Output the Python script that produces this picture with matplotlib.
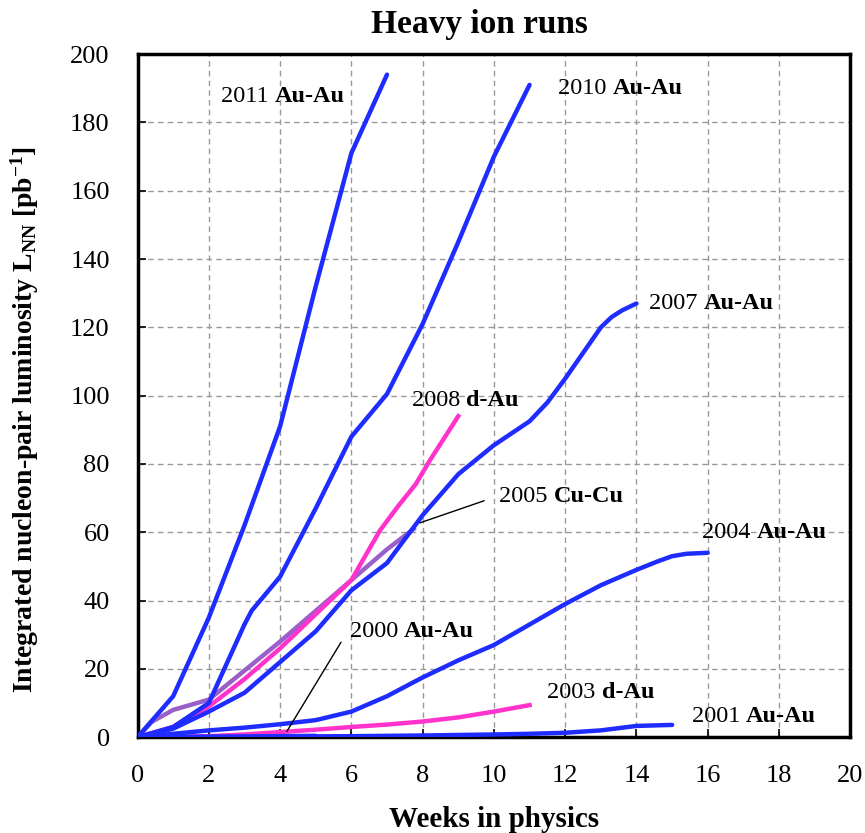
import matplotlib
matplotlib.use("Agg")
import matplotlib.pyplot as plt

plt.rcParams['font.family'] = ['Liberation Serif', 'DejaVu Serif']
plt.rcParams['mathtext.fontset'] = 'custom'
plt.rcParams['mathtext.rm'] = 'Liberation Serif:bold'
plt.rcParams['mathtext.bf'] = 'Liberation Serif:bold'
plt.rcParams['mathtext.it'] = 'Liberation Serif:bold'

# ---- data (weeks, integrated luminosity pb^-1) ----
w2011 = [0, 1, 2, 3, 4, 5, 6, 7]
l2011 = [0, 12, 35, 62, 91, 132, 171, 194]

w2010 = [0, 1, 2, 3, 3.2, 4, 5, 6, 7, 8, 9, 10, 11]
l2010 = [0, 3, 10, 33, 37, 47, 67, 88, 100.5, 121, 145, 170, 191]

w2007 = [0, 1, 2, 3, 4, 5, 6, 7, 8, 9, 10, 11, 11.5, 12, 12.6, 13, 13.3, 13.6, 14]
l2007 = [0, 2.5, 7.5, 13, 22, 31, 43, 51, 65, 77, 85.5, 92.5, 98, 105, 114, 120, 123, 125, 127]

w2008 = [0, 1, 2, 3, 4, 5, 6, 6.8, 7.3, 7.8, 8.2, 9]
l2008 = [0, 3, 9, 17, 26, 36, 46, 60.5, 67.5, 74, 81, 94]

w2005 = [0, 0.4, 1, 2, 3, 4, 5, 6, 7, 7.75]
l2005 = [0, 4.5, 8, 11, 19.5, 28, 37, 46, 55, 61]

w2004 = [0, 1, 2, 3, 4, 5, 6, 7, 8, 9, 10, 11, 12, 13, 14, 14.6, 15, 15.4, 16]
l2004 = [0, 1, 2, 2.8, 3.8, 5, 7.5, 12, 17.5, 22.5, 27, 33, 39, 44.5, 49, 51.5, 53, 53.7, 54]

w2003 = [0, 2, 3, 4, 5, 6, 7, 8, 9, 10, 11]
l2003 = [0, 0.3, 0.8, 1.5, 2.2, 3, 3.7, 4.6, 5.8, 7.5, 9.4]

w2001 = [0, 2, 4, 6, 8, 10, 11, 12, 13, 14, 15]
l2001 = [0, 0.1, 0.2, 0.3, 0.5, 0.8, 1.0, 1.3, 2.0, 3.3, 3.6]

w2000 = [0, 1, 2, 3, 4, 5]
l2000 = [0, 0.05, 0.1, 0.2, 0.3, 0.4]

xticks = list(range(0, 21, 2))
yticks = list(range(0, 201, 20))

blue = '#1f2cff'
magenta = '#ff33cc'
purple = '#9a5fc8'

fig = plt.figure(figsize=(8.65, 8.33), dpi=100)
ax = fig.add_axes([0.159, 0.115, 0.824, 0.82])

lw = 3.2
ax.plot(w2005, l2005, color=purple, lw=lw, zorder=3)
ax.plot(w2008, l2008, color=magenta, lw=lw, zorder=3)
ax.plot(w2003, l2003, color=magenta, lw=lw, zorder=3)
for w, l in [(w2011, l2011), (w2010, l2010), (w2007, l2007), (w2004, l2004),
             (w2000, l2000), (w2001, l2001)]:
    ax.plot(w, l, color=blue, lw=lw, zorder=4, solid_capstyle='round')

ax.set_xlim(0, 20)
ax.set_ylim(0, 200)
ax.set_xticks(xticks)
ax.set_yticks(yticks)
ax.tick_params(direction='in', length=6, width=1.2, labelsize=19)
ax.tick_params(axis='y', pad=20)
ax.tick_params(axis='x', pad=20)
ax.grid(True, linestyle=(0, (4, 3)), color='#999999', lw=1.0)
for s in ax.spines.values():
    s.set_linewidth(2.5)

ax.set_title('Heavy ion runs', fontsize=24, fontweight='bold', pad=15, x=0.48)
ax.set_xlabel('Weeks in physics', fontsize=21, fontweight='bold', labelpad=14)
ax.set_ylabel(r'Integrated nucleon-pair luminosity L$_{\mathrm{NN}}$ [pb$^{\mathrm{-1}}$]',
              fontsize=20, fontweight='bold', labelpad=10)
ax.yaxis.set_label_coords(-0.135, 0.465)

labels = [
    ('2011', 'Au-Au', 2.35, 187.5),
    ('2010', 'Au-Au', 11.8, 190.0),
    ('2007', 'Au-Au', 14.35, 127.0),
    ('2008', 'd-Au', 7.7, 98.5),
    ('2005', 'Cu-Cu', 10.15, 70.5),
    ('2004', 'Au-Au', 15.85, 60.0),
    ('2000', 'Au-Au', 5.95, 31.0),
    ('2003', 'd-Au', 11.5, 13.0),
    ('2001', 'Au-Au', 15.55, 6.0),
]
for yr, sp, x, y in labels:
    t = ax.text(x, y, yr + ' ', fontsize=17.5, va='center', ha='left', zorder=6)
    ax.annotate(sp, xy=(1, 0.5), xycoords=t, xytext=(0, 0), textcoords='offset points',
                fontsize=17.5, fontweight='bold', va='center', ha='left', zorder=6)

# leader lines
ax.annotate('', xy=(4.15, 1.0), xytext=(5.75, 28.5),
            arrowprops=dict(arrowstyle='-', color='black', lw=1.0), zorder=5)
ax.annotate('', xy=(7.85, 62.5), xytext=(9.8, 69.5),
            arrowprops=dict(arrowstyle='-', color='black', lw=1.0), zorder=5)

fig.savefig('out.png', dpi=100)
